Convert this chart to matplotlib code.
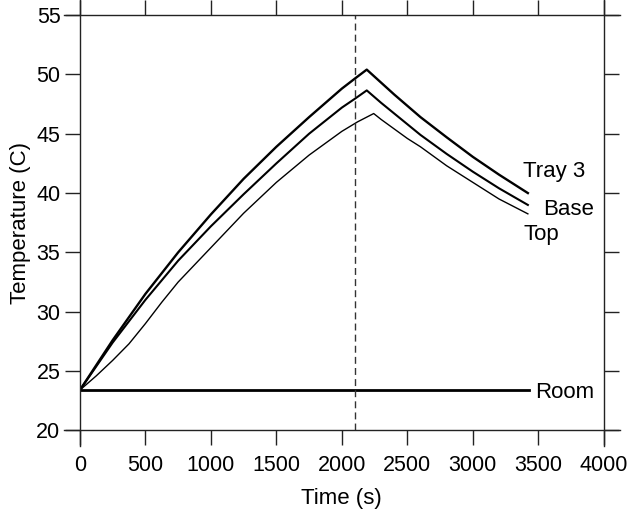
import numpy as np
import matplotlib
matplotlib.use("Agg")
import matplotlib.pyplot as plt

plt.rcParams['font.family'] = ['Liberation Sans', 'DejaVu Sans']

# readings (time in s, temperature in C)
t_tray = [0, 250, 500, 750, 1000, 1250, 1500, 1750, 2000, 2100, 2190,
          2300, 2400, 2500, 2600, 2800, 3000, 3200, 3420]
tray3 = [23.4, 27.6, 31.5, 35.0, 38.2, 41.2, 43.9, 46.4, 48.8, 49.65, 50.4,
         49.3, 48.3, 47.35, 46.4, 44.7, 43.05, 41.55, 40.0]

t_base = [0, 250, 500, 750, 1000, 1250, 1500, 1750, 2000, 2100, 2190,
          2300, 2400, 2500, 2600, 2800, 3000, 3200, 3420]
base = [23.4, 27.4, 31.0, 34.3, 37.2, 39.9, 42.5, 45.0, 47.2, 47.95, 48.65,
        47.6, 46.7, 45.8, 44.9, 43.3, 41.8, 40.4, 39.0]

t_top = [0, 125, 250, 375, 500, 625, 750, 1000, 1250, 1500, 1750, 2000, 2120, 2243,
         2300, 2400, 2500, 2600, 2800, 3000, 3200, 3420]
top = [23.4, 24.6, 25.9, 27.3, 29.0, 30.8, 32.5, 35.4, 38.3, 40.9, 43.2, 45.2, 46.0, 46.7,
       46.2, 45.4, 44.6, 43.9, 42.3, 40.9, 39.5, 38.25]

t_room = [0, 3430]
room = [23.45, 23.45]

t_switch = 2100

labels = ["Tray 3", "Base", "Top", "Room"]
label_x = [3384, 3537, 3384, 3473]
label_y = [41.37, 38.18, 36.08, 22.75]

fig = plt.figure(figsize=(6.29, 5.18), dpi=100)
ax = fig.add_axes([0.127, 0.169, 0.833, 0.802])

ax.plot(t_room, room, color='black', lw=2.0)
ax.plot(t_top, top, color='black', lw=1.0)
ax.plot(t_base, base, color='black', lw=1.5)
ax.plot(t_tray, tray3, color='black', lw=1.7)
ax.axvline(t_switch, color='#333333', lw=1.0, ls=(0, (5, 3)))

for name, x, y in zip(labels, label_x, label_y):
    ax.text(x, y, name, fontsize=16, va='baseline', ha='left')

ax.set_xlim(0, 4000)
ax.set_ylim(20, 55)
ax.set_xticks(np.arange(0, 4001, 500))
ax.set_yticks(np.arange(20, 56, 5))
ax.tick_params(direction='out', length=11, width=1, labelsize=15.5,
               top=True, right=True, color='#222222')
ax.tick_params(axis='x', pad=7)
ax.tick_params(axis='y', pad=3)

for side in ['top', 'bottom']:
    ax.spines[side].set_bounds(-125, 4125)
for side in ['left', 'right']:
    ax.spines[side].set_bounds(18.65, 56.35)
for sp in ax.spines.values():
    sp.set_color('#222222')
    sp.set_linewidth(1.0)

ax.set_xlabel("Time (s)", fontsize=16, labelpad=8)
ax.set_ylabel("Temperature (C)", fontsize=16, labelpad=4)

fig.savefig("out.png", dpi=100)
